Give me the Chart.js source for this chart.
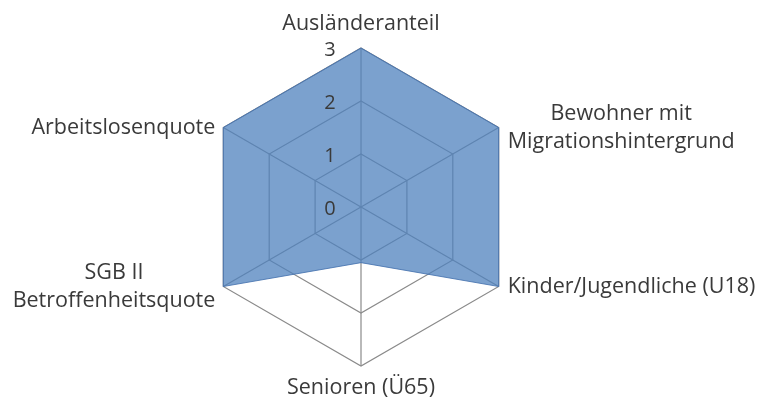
<!DOCTYPE html>
<html>
<head>
<meta charset="utf-8">
<script src="https://cdn.jsdelivr.net/npm/chart.js@4/dist/chart.umd.min.js"></script>
<style>
  html, body { margin: 0; padding: 0; background: #ffffff; }
  #wrap { width: 774px; height: 403px; position: relative; }
</style>
</head>
<body>
<div id="wrap"><canvas id="c" width="774" height="403"></canvas></div>
<script>
const categories = [
  'Ausländeranteil',
  ['Bewohner mit', 'Migrationshintergrund'],
  'Kinder/Jugendliche (U18)',
  'Senioren (Ü65)',
  ['SGB II', 'Betroffenheitsquote'],
  'Arbeitslosenquote'
];
const seriesValues = [3, 3, 3, 1.05, 3, 3];
const tickLabels = ['0', '1', '2', '3'];

const FONT = '21.5px "Open Sans"';
const TICK_FONT = '20px "Open Sans"';
const TEXT = '#3a3a3a';

const labelPlugin = {
  id: 'customLabels',
  afterDatasetsDraw(chart) {
    const s = chart.scales.r;
    const ctx = chart.ctx;
    ctx.save();
    ctx.fillStyle = TEXT;
    ctx.textBaseline = 'middle';
    ctx.textAlign = 'center';
    ctx.font = TICK_FONT;
    s.ticks.forEach((t, k) => {
      const y = s.yCenter - s.getDistanceFromCenterForValue(t.value);
      ctx.fillText(tickLabels[k] !== undefined ? tickLabels[k] : t.label, s.xCenter - 31, y + 2);
    });
    ctx.font = FONT;
    const lh = 28;
    categories.forEach((c, i) => {
      const lines = Array.isArray(c) ? c : [c];
      const p = s.getPointPositionForValue(i, s.max);
      const w = Math.max(...lines.map(l => ctx.measureText(l).width));
      let cx, cy;
      if (Math.abs(p.x - s.xCenter) < 2) {
        cx = p.x;
        cy = p.y < s.yCenter ? p.y - 24 - (lines.length - 1) * lh / 2 : p.y + 22 + (lines.length - 1) * lh / 2;
      } else if (p.x > s.xCenter) {
        cx = p.x + 9 + w / 2;
        cy = p.y;
      } else {
        cx = p.x - 8 - w / 2;
        cy = p.y;
      }
      lines.forEach((l, j) => {
        ctx.fillText(l, cx, cy + (j - (lines.length - 1) / 2) * lh);
      });
    });
    ctx.restore();
  }
};

new Chart(document.getElementById('c'), {
  type: 'radar',
  data: {
    labels: categories,
    datasets: [{
      data: seriesValues,
      fill: true,
      backgroundColor: 'rgba(79,129,189,0.75)',
      borderColor: 'rgba(70,115,175,0.85)',
      borderWidth: 1,
      pointRadius: 0,
      tension: 0
    }]
  },
  options: {
    responsive: false,
    animation: false,
    devicePixelRatio: 1,
    layout: { padding: { top: 48, bottom: 37, left: 202, right: 254 } },
    plugins: { legend: { display: false }, tooltip: { enabled: false } },
    scales: {
      r: {
        min: 0,
        max: 3,
        ticks: { display: false, stepSize: 1 },
        pointLabels: { display: false },
        grid: { color: '#8a8a8a', lineWidth: 1.2 },
        angleLines: { color: '#8a8a8a', lineWidth: 1.2 }
      }
    }
  },
  plugins: [labelPlugin]
});
</script>
</body>
</html>
